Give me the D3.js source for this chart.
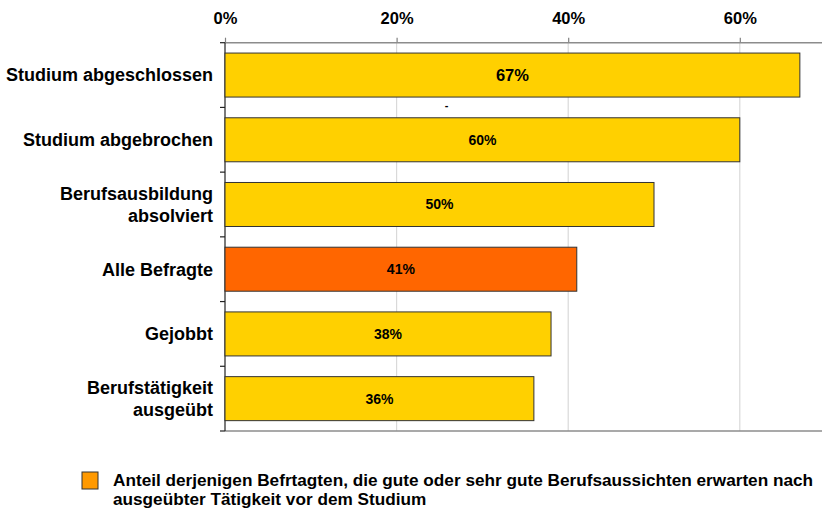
<!DOCTYPE html>
<html>
<head>
<meta charset="utf-8">
<script src="https://cdn.jsdelivr.net/npm/d3@7"></script>
<style>
  body { margin: 0; background: #fff; }
  text { font-family: "Liberation Sans", Arial, sans-serif; font-weight: bold; }
</style>
</head>
<body>
<div id="chart"></div>
<script>
// categories (top to bottom) and share in percent
var categories = [
  ['Studium abgeschlossen'],
  ['Studium abgebrochen'],
  ['Berufsausbildung', 'absolviert'],
  ['Alle Befragte'],
  ['Gejobbt'],
  ['Berufstätigkeit', 'ausgeübt']
]
var values = [67, 60, 50, 41, 38, 36]
var tickValues = [0, 20, 40, 60]
var legendLines = [
  'Anteil derjenigen Befrtagten, die gute oder sehr gute Berufsaussichten erwarten nach',
  'ausgeübter Tätigkeit vor dem Studium'
]

var W = 822, H = 509
var margin = {top: 42.7, left: 225, bottom: 78}
var plotH = H - margin.top - margin.bottom

var svg = d3.select('#chart').append('svg')
    .attr('width', W)
    .attr('height', H)

var xScale = d3.scaleLinear()
    .domain([0, 20])
    .range([0, 171.6])

var yScale = d3.scaleBand()
    .domain(d3.range(values.length))
    .range([0, plotH])
    .paddingInner(0.32)
    .paddingOuter(0.16)

var g = svg.append('g').attr('transform', 'translate(' + margin.left + ',' + margin.top + ')')

// vertical grid lines
g.selectAll('.grid')
    .data(tickValues.filter(d => d > 0))
  .enter().append('line')
    .attr('x1', d => xScale(d)).attr('x2', d => xScale(d))
    .attr('y1', 0).attr('y2', plotH)
    .attr('stroke', '#d9d9d9')
    .attr('stroke-width', 1.2)

// top axis
var xAxis = g.append('g')
    .call(d3.axisTop(xScale).tickValues(tickValues).tickSize(5).tickFormat(d => d + '%'))
xAxis.select('.domain').remove()
xAxis.selectAll('.tick line').attr('stroke', '#808080').attr('stroke-width', 1.2)
xAxis.selectAll('.tick text')
    .attr('y', -24)
    .attr('dy', '0.35em')
    .attr('font-size', 16.5)
    .attr('font-family', '"Liberation Sans", Arial, sans-serif')
    .attr('fill', '#000')
g.append('line')
    .attr('x1', 0).attr('x2', W - margin.left)
    .attr('y1', 0).attr('y2', 0)
    .attr('stroke', '#8c8c8c').attr('stroke-width', 1.5)
g.append('line')
    .attr('x1', 0).attr('x2', W - margin.left)
    .attr('y1', plotH).attr('y2', plotH)
    .attr('stroke', '#8c8c8c').attr('stroke-width', 1.5)

// left axis with ticks at band boundaries
g.append('line')
    .attr('x1', 0).attr('x2', 0)
    .attr('y1', 0).attr('y2', plotH)
    .attr('stroke', '#222').attr('stroke-width', 1.2)
g.selectAll('.ytick')
    .data(d3.range(values.length + 1))
  .enter().append('line')
    .attr('x1', -5).attr('x2', 0)
    .attr('y1', i => i * plotH / values.length)
    .attr('y2', i => i * plotH / values.length)
    .attr('stroke', '#222').attr('stroke-width', 1.2)

// bars
g.selectAll('.bar')
    .data(values)
  .enter().append('rect')
    .attr('class', 'bar')
    .attr('x', 0)
    .attr('y', (d, i) => yScale(i))
    .attr('width', d => xScale(d))
    .attr('height', yScale.bandwidth())
    .attr('fill', (d, i) => i === 3 ? '#ff6600' : '#ffd000')
    .attr('stroke', '#333')
    .attr('stroke-width', 1)

// value labels
g.selectAll('.val')
    .data(values)
  .enter().append('text')
    .attr('x', d => xScale(d) / 2)
    .attr('y', (d, i) => yScale(i) + yScale.bandwidth() / 2)
    .attr('dy', '0.35em')
    .attr('text-anchor', 'middle')
    .attr('font-size', (d, i) => i === 0 ? 16.5 : 14)
    .text(d => d + '%')

// category labels
g.selectAll('.cat')
    .data(categories)
  .enter().append('text')
    .attr('text-anchor', 'end')
    .attr('font-size', 18)
    .attr('transform', (d, i) => 'translate(-12,' + (yScale(i) + yScale.bandwidth() / 2) + ')')
    .each(function(d) {
      var t = d3.select(this)
      d.forEach((line, k) => {
        t.append('tspan')
          .attr('x', 0)
          .attr('y', (k - (d.length - 1) / 2) * 21.5)
          .attr('dy', '0.35em')
          .text(line)
      })
    })

// stray mark from the original
g.append('text')
    .attr('x', xScale(25.6))
    .attr('y', 66)
    .attr('font-size', 11)
    .text('-')

// legend
var legend = svg.append('g').attr('transform', 'translate(82,472)')
legend.append('rect')
    .attr('width', 16).attr('height', 17)
    .attr('fill', '#ff9900')
    .attr('stroke', '#333')
legend.selectAll('text')
    .data(legendLines)
  .enter().append('text')
    .attr('x', 31)
    .attr('y', (d, i) => 14 + i * 18.5)
    .attr('font-size', 17.2)
    .text(d => d)
</script>
</body>
</html>
